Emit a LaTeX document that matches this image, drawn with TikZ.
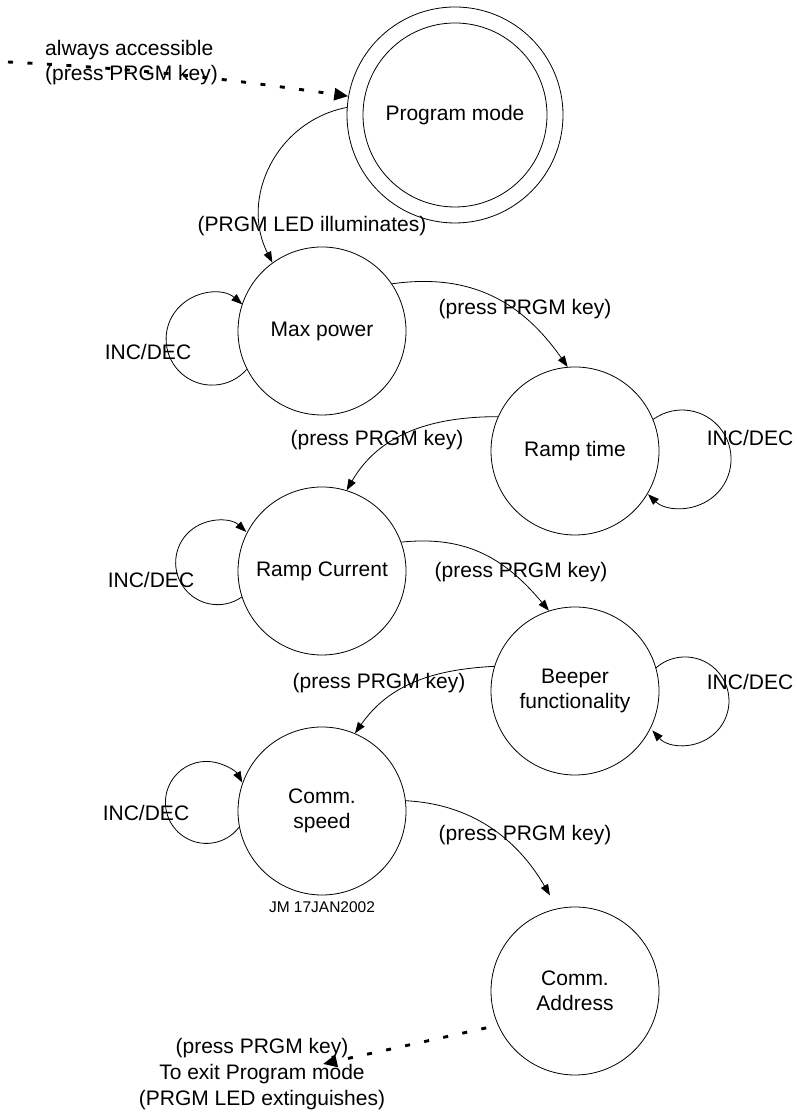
\documentclass[tikz,border=0pt]{standalone}
\usepackage{fontspec}
\setmainfont{Liberation Sans}
\usetikzlibrary{arrows.meta}
\begin{document}
\begin{tikzpicture}[x=1pt,y=1pt,
  state/.style={circle,draw,line width=0.8pt,minimum size=168pt,inner sep=0pt,align=center,font=\fontsize{21}{25}\selectfont},
  lbl/.style={font=\fontsize{21}{25}\selectfont,inner sep=0pt},
  arr/.style={line width=0.8pt,-{Triangle[length=11pt,width=8pt]}},
  dotarr/.style={line width=2.9pt,dash pattern=on 5pt off 14.5pt,-{Triangle[length=14pt,width=12pt]}},
]
\useasboundingbox (0,0) rectangle (797,1116);

% states
\node[state,minimum size=216pt] (pm) at (455,1001) {};
\node[state,minimum size=184pt] (pmi) at (455,1001) {Program mode};
\node[state] (mp) at (322,785) {Max power};
\node[state] (rt) at (575,665) {Ramp time};
\node[state] (rc) at (322,545) {Ramp Current};
\node[state] (bf) at (575,425) {Beeper\\functionality};
\node[state] (cs) at (322,305) {Comm.\\speed};
\node[state] (ca) at (575,125) {Comm.\\Address};

% free ends
\coordinate (src) at (8,1054);
\coordinate (exitpt) at (323,52);

% transitions
\draw[dotarr] (src) to[out=-3,in=172] (pm.170);
\draw[arr] (pm.176) to[out=191,in=117,looseness=1.07] (mp.126);
\draw[arr] (mp.34) to[out=8,in=125,looseness=1.05] (rt.95);
\draw[arr] (rt.156) to[out=180,in=60] (rc.73);
\draw[arr] (rc.20) to[out=6,in=130,looseness=1.05] (bf.108);
\draw[arr] (bf.163) to[out=183,in=55] (cs.67);
\draw[arr,shorten >=15pt] (cs.7) to[out=-3,in=120] (ca.102);
\draw[dotarr,shorten <=12pt] (ca.204) -- (exitpt);

% self loops
\draw[arr] (mp.207) arc[start angle=-41,end angle=-311,radius=46];
\draw[arr] (rt.22) arc[start angle=126,end angle=-134,radius=49];
\draw[arr] (rc.198) arc[start angle=-55,end angle=-313,radius=42];
\draw[arr] (bf.16) arc[start angle=131,end angle=-138,radius=44];
\draw[arr] (cs.191) arc[start angle=-37,end angle=-331,radius=41];

% labels
\node[lbl,align=left,anchor=west] (acc) at (45,1053.5) {always accessible\\(press PRGM key)};
\node[lbl] (l0) at (312,890) {(PRGM LED illuminates)};
\node[lbl] (l1) at (525,807) {(press PRGM key)};
\node[lbl] (l2) at (377,676) {(press PRGM key)};
\node[lbl] (l3) at (521,544) {(press PRGM key)};
\node[lbl] (l4) at (379,433) {(press PRGM key)};
\node[lbl] (l5) at (525,281) {(press PRGM key)};
\node[lbl] (i1) at (148,764) {INC/DEC};
\node[lbl] (i2) at (750,678) {INC/DEC};
\node[lbl] (i3) at (151,536) {INC/DEC};
\node[lbl] (i4) at (750,434) {INC/DEC};
\node[lbl] (i5) at (146,303) {INC/DEC};
\node[inner sep=0pt,font=\fontsize{15.5}{18}\selectfont] (jm) at (322,209) {JM 17JAN2002};
\node[lbl,align=center,font=\fontsize{21}{26}\selectfont] (exit) at (262,41.5) {(press PRGM key)\\To exit Program mode\\(PRGM LED extinguishes)};
\end{tikzpicture}
\end{document}
